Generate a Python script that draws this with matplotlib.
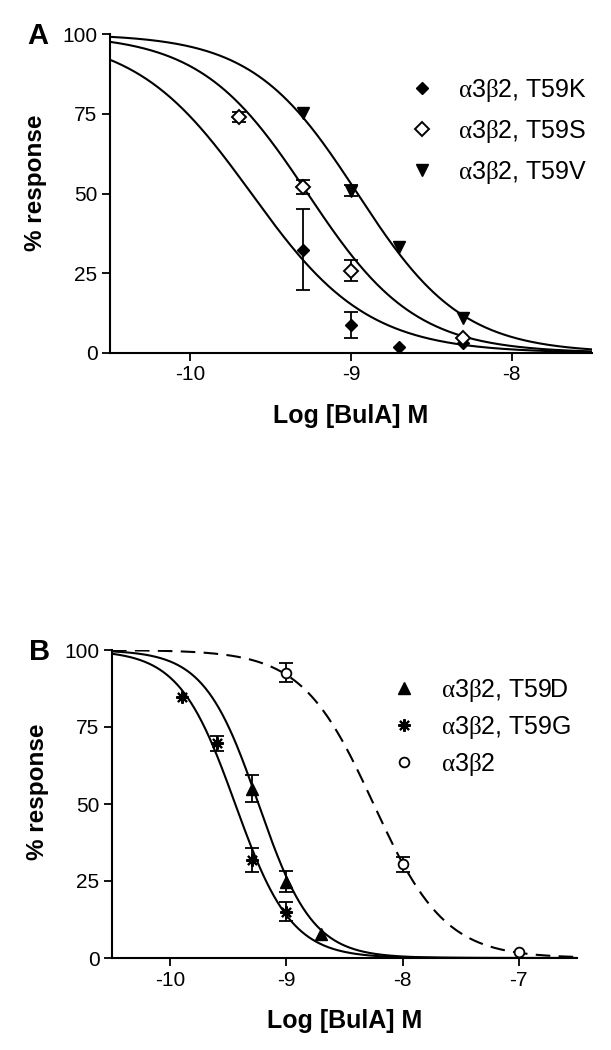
import numpy as np
import matplotlib.pyplot as plt

plt.rcParams['font.family'] = ['Liberation Sans', 'DejaVu Sans']
# greek letters upright and serif, like the Symbol font in the original
plt.rcParams['mathtext.fontset'] = 'custom'
plt.rcParams['mathtext.rm'] = 'Liberation Serif'
plt.rcParams['mathtext.it'] = 'Liberation Serif'

# ---- panel A data (log [BuIA] M, % response, SEM) ----
t59k_x = [-9.3, -9.0, -8.7, -8.3]
t59k_y = [32.3, 8.8, 2.0, 3.0]
t59k_err = [12.7, 4.2, 0, 0]

t59s_x = [-9.7, -9.3, -9.0, -8.3]
t59s_y = [73.9, 52.1, 25.8, 4.6]
t59s_err = [1.5, 2.1, 3.2, 0]

t59v_x = [-9.3, -9.0, -8.7, -8.3]
t59v_y = [75.1, 50.9, 33.1, 10.9]
t59v_err = [0, 1.7, 0, 0]

# ---- panel B data ----
t59d_x = [-9.3, -9.0, -8.7]
t59d_y = [55.0, 24.8, 7.8]
t59d_err = [4.5, 3.3, 0]

t59g_x = [-9.9, -9.6, -9.3, -9.0]
t59g_y = [84.8, 69.7, 31.8, 15.0]
t59g_err = [0, 2.4, 3.8, 3.1]

wt_x = [-9.0, -8.0, -7.0]
wt_y = [92.6, 30.4, 2.0]
wt_err = [3.1, 2.4, 0]

# fitted curves: log IC50 and Hill slope
fit_a = {'T59K': (-9.62, 1.2), 'T59S': (-9.27, 1.3), 'T59V': (-8.96, 1.33)}
fit_b = {'T59D': (-9.24, 1.86), 'T59G': (-9.44, 1.8), 'wt': (-8.25, 1.41)}

labels_a = [r'$\alpha$3$\beta$2, T59K', r'$\alpha$3$\beta$2, T59S', r'$\alpha$3$\beta$2, T59V']
labels_b = [r'$\alpha$3$\beta$2, T59D', r'$\alpha$3$\beta$2, T59G', r'$\alpha$3$\beta$2']

W, H = 611, 1050
fig = plt.figure(figsize=(W / 100, H / 100), dpi=100)


def hill(x, c, h):
    return 100.0 / (1.0 + 10 ** ((x - c) * h))


def series(ax, x, y, err, label, **mk):
    x = np.array(x); y = np.array(y); err = np.array(err, dtype=float)
    m = err > 0
    if m.any():
        ax.errorbar(x[m], y[m], yerr=err[m], fmt='none', ecolor='black',
                    elinewidth=1.3, capsize=5, capthick=1.3, zorder=3)
    ax.plot(x, y, linestyle='none', color='black', label=label, zorder=4, **mk)


def style(ax, xlim, xticks, ylab_pos):
    ax.set_xlim(*xlim)
    ax.set_ylim(0, 100)
    ax.set_xticks(xticks)
    ax.set_xticklabels([str(t) for t in xticks])
    ax.set_yticks([0, 25, 50, 75, 100])
    for s in ['top', 'right']:
        ax.spines[s].set_visible(False)
    for s in ['left', 'bottom']:
        ax.spines[s].set_linewidth(1.5)
    ax.tick_params(axis='both', direction='out', length=6, width=1.3,
                   labelsize=15, pad=3)
    ax.set_xlabel('Log [BulA] M', fontsize=18, fontweight='bold', labelpad=14)
    ax.set_ylabel('% response', fontsize=17.5, fontweight='bold')
    ax.yaxis.set_label_coords(*ylab_pos)
    ax.margins(0)


# ---------- panel A ----------
ax1 = fig.add_axes([110 / W, 1 - 353 / H, (592 - 110) / W, (353 - 34) / H])
xs = np.linspace(-10.5, -7.5, 400)
for key in ['T59K', 'T59S', 'T59V']:
    ax1.plot(xs, hill(xs, *fit_a[key]), color='black', lw=1.5, zorder=2)
series(ax1, t59k_x, t59k_y, t59k_err, labels_a[0], marker='D', markersize=6,
       markerfacecolor='black')
series(ax1, t59s_x, t59s_y, t59s_err, labels_a[1], marker='D', markersize=7,
       markerfacecolor='white', markeredgewidth=1.4)
series(ax1, t59v_x, t59v_y, t59v_err, labels_a[2], marker='v', markersize=8,
       markerfacecolor='black')
style(ax1, (-10.5, -7.5), [-10, -9, -8], (-0.13, 0.535))
ax1.legend(loc='upper left', bbox_to_anchor=(411 / W, 1 - 77 / H),
           bbox_transform=fig.transFigure, frameon=False, fontsize=18,
           handlelength=0.9, handletextpad=1.0, labelspacing=0.55,
           borderpad=0, borderaxespad=0, numpoints=1)

# ---------- panel B ----------
ax2 = fig.add_axes([112 / W, 1 - 958 / H, (577 - 112) / W, (958 - 650) / H])
xs = np.linspace(-10.5, -6.5, 400)
ax2.plot(xs, hill(xs, *fit_b['T59D']), color='black', lw=1.5, zorder=2)
ax2.plot(xs, hill(xs, *fit_b['T59G']), color='black', lw=1.5, zorder=2)
ax2.plot(xs, hill(xs, *fit_b['wt']), color='black', lw=1.5, zorder=2,
         linestyle=(0, (7, 4)))
series(ax2, t59d_x, t59d_y, t59d_err, labels_b[0], marker='^', markersize=8,
       markerfacecolor='black')
series(ax2, t59g_x, t59g_y, t59g_err, labels_b[1], marker=(8, 2, 0), markersize=9,
       markeredgewidth=1.5)
series(ax2, wt_x, wt_y, wt_err, labels_b[2], marker='o', markersize=7,
       markerfacecolor='white', markeredgewidth=1.3)
style(ax2, (-10.5, -6.5), [-10, -9, -8, -7], (-0.135, 0.54))
ax2.legend(loc='upper left', bbox_to_anchor=(393 / W, 1 - 677 / H),
           bbox_transform=fig.transFigure, frameon=False, fontsize=18,
           handlelength=0.9, handletextpad=1.0, labelspacing=0.4,
           borderpad=0, borderaxespad=0, numpoints=1)

fig.text(38 / W, 1 - 36 / H, 'A', fontsize=21, fontweight='bold', ha='center', va='center')
fig.text(40 / W, 1 - 652 / H, 'B', fontsize=21, fontweight='bold', ha='center', va='center')

fig.savefig('out.png', dpi=100)
